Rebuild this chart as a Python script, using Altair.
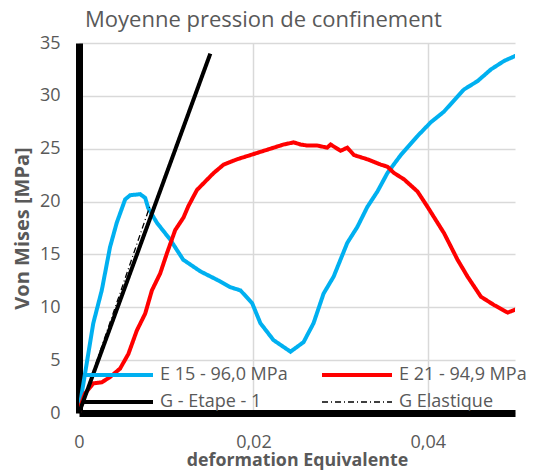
import altair as alt
import pandas as pd

# E 15 - 96,0 MPa (blue)
e15_x = [0.0, 0.00031, 0.00164, 0.00261, 0.00356, 0.00433, 0.00529, 0.00586, 0.00701, 0.00759,
         0.00793, 0.00893, 0.01046, 0.01195, 0.01391, 0.01583, 0.01736, 0.01851, 0.01985, 0.0208,
         0.0223, 0.02425, 0.02575, 0.0269, 0.02805, 0.0292, 0.03077, 0.03192, 0.03307, 0.03422,
         0.03537, 0.0369, 0.03882, 0.04034, 0.04184, 0.04414, 0.04571, 0.04724, 0.04874, 0.0501]
e15_y = [0.0, 1.8, 8.5, 11.6, 15.7, 18.0, 20.2, 20.6, 20.7, 20.35,
         19.4, 18.0, 16.4, 14.5, 13.4, 12.6, 11.9, 11.6, 10.4, 8.5,
         6.9, 5.8, 6.7, 8.5, 11.3, 12.9, 16.1, 17.6, 19.5, 20.95,
         22.7, 24.4, 26.2, 27.5, 28.5, 30.6, 31.4, 32.5, 33.3, 33.8]

# E 21 - 94,9 MPa (red)
e21_x = [0.0, 0.00012, 0.00069, 0.00164, 0.00261, 0.00356, 0.00471, 0.00567, 0.00663, 0.00759,
         0.00836, 0.00931, 0.01008, 0.01103, 0.01199, 0.01256, 0.01353, 0.01544, 0.01659, 0.01813,
         0.01966, 0.0208, 0.02233, 0.02348, 0.02463, 0.0254, 0.02617, 0.02732, 0.02847, 0.02885,
         0.03, 0.03077, 0.03153, 0.03307, 0.0346, 0.03537, 0.03613, 0.03728, 0.03882, 0.03997,
         0.04187, 0.04341, 0.04456, 0.04609, 0.04762, 0.04916, 0.0501]
e21_y = [0.0, 0.55, 1.85, 2.8, 2.9, 3.4, 4.2, 5.6, 7.8, 9.4,
         11.6, 13.2, 15.1, 17.3, 18.5, 19.6, 21.1, 22.7, 23.5, 24.0,
         24.4, 24.7, 25.1, 25.4, 25.6, 25.4, 25.3, 25.3, 25.1, 25.4,
         24.8, 25.1, 24.4, 24.0, 23.5, 23.3, 22.7, 22.1, 20.95, 19.5,
         17.0, 14.5, 12.9, 11.0, 10.2, 9.5, 9.8]

# G - Etape - 1 (black solid)
g1_x = [0.0, 0.01506]
g1_y = [0.0, 34.0]

# G Elastique (black dash-dot)
ge_x = [0.0, 0.0081]
ge_y = [0.0, 19.5]

series_names = ["E 15 - 96,0 MPa", "E 21 - 94,9 MPa", "G - Etape - 1", "G Elastique"]
legend_order = ["E 15 - 96,0 MPa", "G - Etape - 1", "E 21 - 94,9 MPa", "G Elastique"]
color_map = {"E 15 - 96,0 MPa": "#00B0F0", "E 21 - 94,9 MPa": "#FF0000",
             "G - Etape - 1": "#000000", "G Elastique": "#000000"}
dash_map = {"E 15 - 96,0 MPa": [1, 0], "E 21 - 94,9 MPa": [1, 0],
            "G - Etape - 1": [1, 0], "G Elastique": [6, 3, 1, 3]}

frames = []
for name, xs, ys in zip(series_names, [e15_x, e21_x, g1_x, ge_x], [e15_y, e21_y, g1_y, ge_y]):
    frames.append(pd.DataFrame({"x": xs, "y": ys, "series": name, "order": range(len(xs))}))
df = pd.concat(frames, ignore_index=True)

FONT = "Open Sans"
GRAY = "#595959"

legend = alt.Legend(
    title=None, orient="none", legendX=3, legendY=323, columns=2, columnPadding=26,
    rowPadding=9, symbolType="stroke", symbolSize=4900, symbolOffset=27,
    labelFont=FONT, labelFontSize=18, labelColor=GRAY, labelOffset=33, padding=0,
    symbolStrokeWidth={"expr": "datum.value === 'G Elastique' ? 1.3 : 4"},
)

x_enc = alt.X("x:Q", scale=alt.Scale(domain=[0, 0.05], nice=False),
              axis=alt.Axis(title="deformation Equivalente", values=[0, 0.02, 0.04],
                            labelExpr="datum.value == 0 ? '0' : replace(format(datum.value, '.2f'), '.', ',')"))
y_enc = alt.Y("y:Q", scale=alt.Scale(domain=[0, 35], nice=False),
              axis=alt.Axis(title="Von Mises [MPa]", values=[0, 5, 10, 15, 20, 25, 30, 35]))
color_enc = alt.Color("series:N", scale=alt.Scale(domain=legend_order, range=[color_map[s] for s in legend_order]),
                      legend=legend)
dash_enc = alt.StrokeDash("series:N", scale=alt.Scale(domain=legend_order, range=[dash_map[s] for s in legend_order]),
                          legend=legend)

base = alt.Chart(df).encode(x=x_enc, y=y_enc, color=color_enc, strokeDash=dash_enc,
                            order="order:Q", detail="series:N")

thick = base.transform_filter(alt.datum.series != "G Elastique").mark_line(clip=True, strokeWidth=4)
thin = base.transform_filter(alt.datum.series == "G Elastique").mark_line(clip=True, strokeWidth=1.3)

chart = alt.layer(thick, thin).properties(
    width=436, height=370,
    title=alt.TitleParams("Moyenne pression de confinement", anchor="start", frame="group", dx=6, offset=2,
                          font=FONT, fontSize=22, fontWeight="normal", color=GRAY),
    autosize=alt.AutoSizeParams(type="none"),
    padding={"left": 71, "top": 35, "right": 14, "bottom": 60},
).configure_axis(
    domainColor="#000000", domainWidth=7, ticks=False, tickSize=0,
    gridColor="#D9D9D9", gridWidth=1.5, labelFlush=False,
    labelFont=FONT, labelFontSize=18, labelColor=GRAY,
    titleFont=FONT, titleColor=GRAY, titleFontWeight="bold",
).configure_axisX(labelPadding=20, titlePadding=0, labelAngle=0, titleFontSize=17.8
).configure_axisY(labelPadding=19, titlePadding=7, titleFontSize=20
).configure_view(stroke=None)

chart.save("out.html", embed_options={"renderer": "svg", "actions": False})
